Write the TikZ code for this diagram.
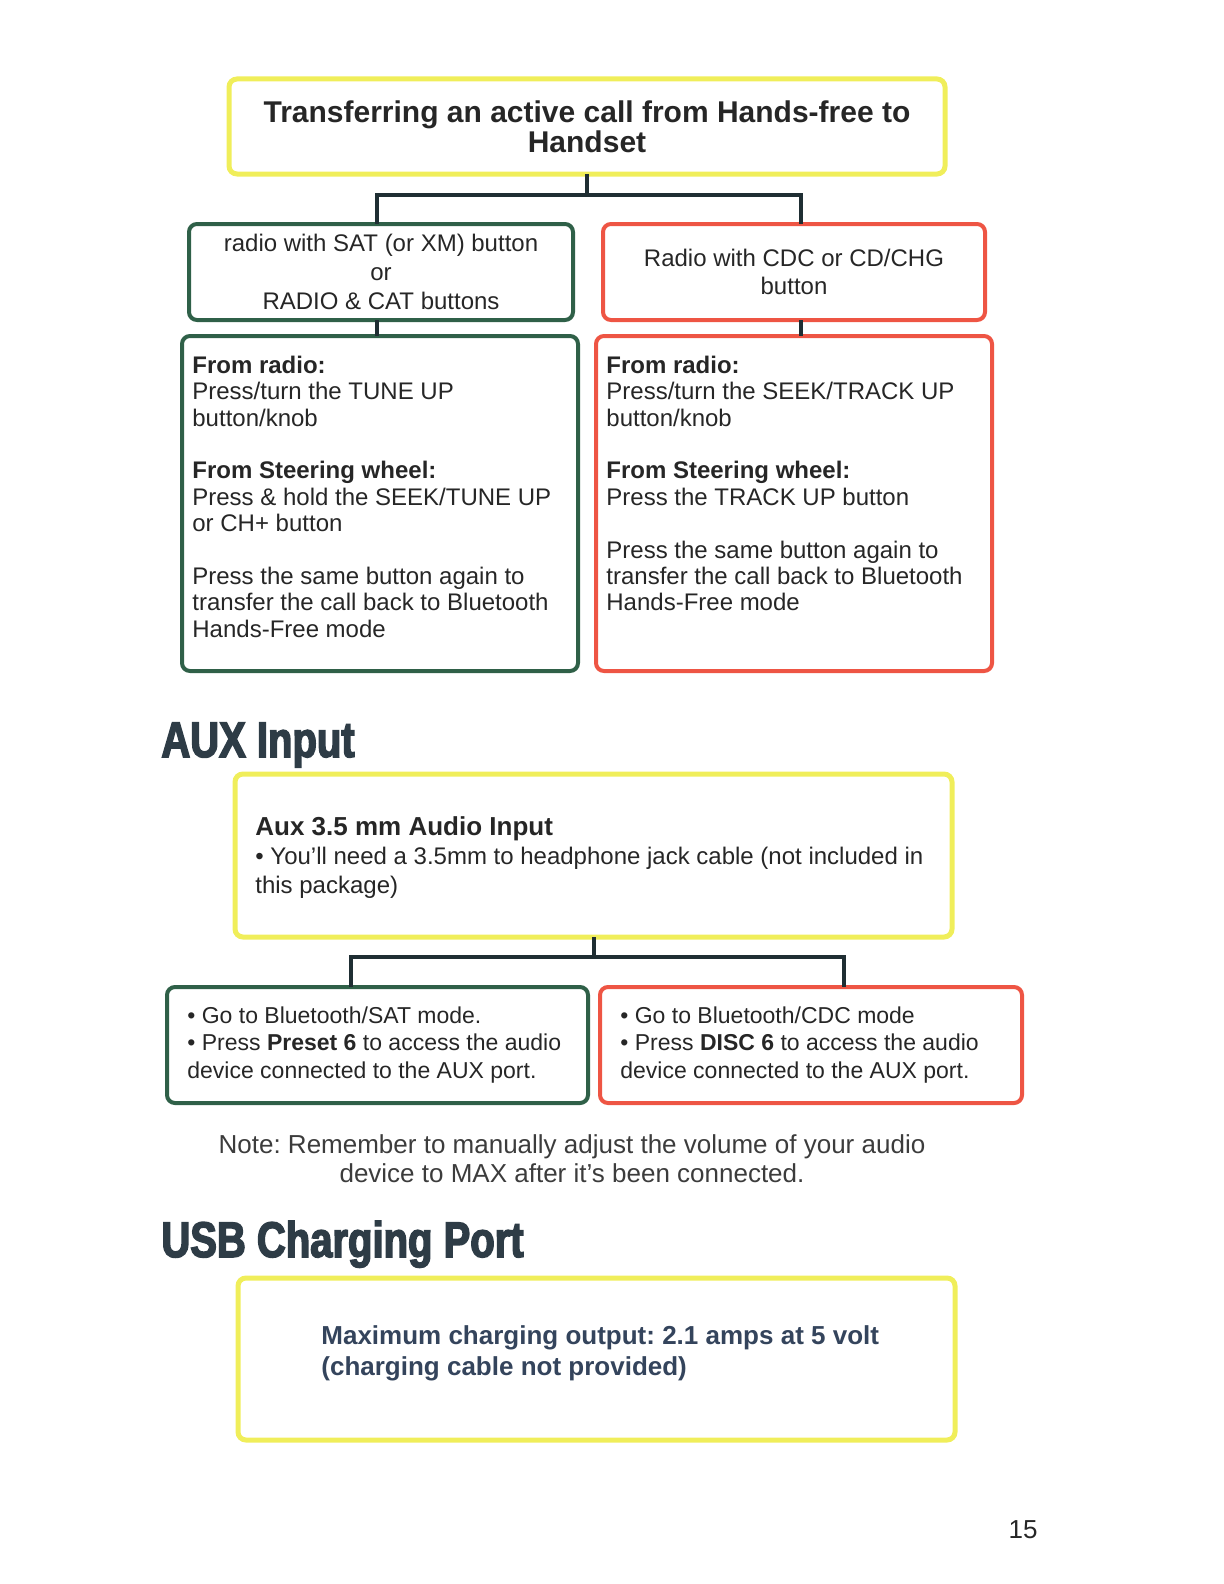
\documentclass[tikz,border=0pt]{standalone}
\usepackage{fontspec}
\setmainfont{Liberation Sans}
\newfontfamily\headfont[FakeStretch=0.8,FakeBold=3]{Liberation Sans Bold}
\usetikzlibrary{positioning}
\definecolor{boxYellow}{HTML}{F0EE5A}
\definecolor{boxGreen}{HTML}{2F6048}
\definecolor{boxRed}{HTML}{EE5544}
\definecolor{linkDark}{HTML}{1F2E33}
\definecolor{headSlate}{HTML}{2E3C46}
\definecolor{usbText}{HTML}{34445C}
\definecolor{textDark}{HTML}{262626}
\frenchspacing
\tikzset{
  box/.style    ={draw, rounded corners=4pt, line width=2pt, inner sep=0pt, outer sep=0pt, align=center, text=textDark},
  yelbox/.style ={box, draw=boxYellow, line width=2.5pt},
  grnbox/.style ={box, draw=boxGreen},
  redbox/.style ={box, draw=boxRed},
  link/.style   ={draw=linkDark, line width=2pt},
  body/.style   ={font=\fontsize{12}{13.2}\selectfont, text=textDark, align=left, inner sep=0pt},
  small/.style  ={body, font=\fontsize{11.5}{13.6}\selectfont},
  head/.style   ={font=\headfont\fontsize{25}{30}\selectfont, text=headSlate, inner sep=0pt},
}
\begin{document}
\begin{tikzpicture}[x=0.5pt,y=-0.5pt]
  \useasboundingbox (0,0) rectangle (1224,1584);
  % call transfer
  \node[yelbox, minimum width=358pt, minimum height=47.5pt, font=\bfseries\fontsize{15}{15}\selectfont]
        (title) at (587,126.5) {Transferring an active call from Hands-free to\\Handset};
  \node[grnbox, minimum width=192pt, minimum height=48pt, font=\fontsize{12}{14.4}\selectfont]
        (sat) at (381,272) {radio with SAT (or XM) button\\or\\RADIO \& CAT buttons};
  \node[redbox, minimum width=191pt, minimum height=48pt, font=\fontsize{12}{14.4}\selectfont]
        (cdc) at (794,272) {Radio with CDC or CD/CHG\\button};
  \node[grnbox, minimum width=198pt, minimum height=167.5pt] (satsteps) at (380,503.5) {};
  \node[redbox, minimum width=198pt, minimum height=167.5pt] (cdcsteps) at (794,503.5) {};
  \node[body, below right=9.75pt and 5pt of satsteps.north west] (satsteptxt)
        {\textbf{From radio:}\\Press/turn the TUNE UP\\button/knob\\[13.2pt]
         \textbf{From Steering wheel:}\\Press \& hold the SEEK/TUNE UP\\or CH+ button\\[13.2pt]
         Press the same button again to\\transfer the call back to Bluetooth\\Hands-Free mode};
  \node[body, below right=9.75pt and 5pt of cdcsteps.north west] (cdcsteptxt)
        {\textbf{From radio:}\\Press/turn the SEEK/TRACK UP\\button/knob\\[13.2pt]
         \textbf{From Steering wheel:}\\Press the TRACK UP button\\[13.2pt]
         Press the same button again to\\transfer the call back to Bluetooth\\Hands-Free mode};
  \coordinate (satjoin) at ([xshift=-2pt]sat.south);
  \coordinate (cdcjoin) at ([xshift=3.5pt]cdc.south);
  \draw[link] (title.south) -- ++(0,21) -| ([xshift=-2pt]sat.north);
  \draw[link] (title.south) -- ++(0,21) -| ([xshift=3.5pt]cdc.north);
  \draw[link] (satjoin) -- (satjoin |- satsteps.north);
  \draw[link] (cdcjoin) -- (cdcjoin |- cdcsteps.north);

  % aux input
  \node[head, anchor=base west] (auxhead) at (161,757) {AUX Input};
  \node[yelbox, minimum width=358.5pt, minimum height=81.5pt] (aux) at (593.5,855.5) {};
  \node[body, right=10pt of aux.west, yshift=-1pt, font=\fontsize{12}{14.3}\selectfont] (auxtxt)
        {{\bfseries\fontsize{13}{14.3}\selectfont Aux 3.5 mm Audio Input}\\
         \textbullet{} You'll need a 3.5mm to headphone jack cable (not included in\\this package)};
  \node[grnbox, minimum width=210.5pt, minimum height=58pt] (auxsat) at (377.5,1045) {};
  \node[redbox, minimum width=211pt, minimum height=58pt] (auxcdc) at (811,1045) {};
  \node[small, right=10pt of auxsat.west] (auxsattxt)
        {\textbullet{} Go to Bluetooth/SAT mode.\\
         \textbullet{} Press \textbf{Preset 6} to access the audio\\device connected to the AUX port.};
  \node[small, right=10pt of auxcdc.west] (auxcdctxt)
        {\textbullet{} Go to Bluetooth/CDC mode\\
         \textbullet{} Press \textbf{DISC 6} to access the audio\\device connected to the AUX port.};
  \draw[link] (aux.south) -- ++(0,20) -| ([xshift=-13.5pt]auxsat.north);
  \draw[link] (aux.south) -- ++(0,20) -| ([xshift=16.5pt]auxcdc.north);
  \node[align=center, text=textDark!90, font=\fontsize{13}{14.5}\selectfont] (note) at (572,1158.5)
        {Note: Remember to manually adjust the volume of your audio\\device to MAX after it's been connected.};

  % usb port
  \node[head, anchor=base west] (usbhead) at (161,1257) {USB Charging Port};
  \node[yelbox, minimum width=358.5pt, minimum height=81pt] (usb) at (596.5,1359) {};
  \node[body, right=41.5pt of usb.west, yshift=3pt, text=usbText, font=\bfseries\fontsize{13}{15.5}\selectfont]
        (usbtxt) {Maximum charging output: 2.1 amps at 5 volt\\(charging cable not provided)};

  \node[font=\fontsize{13}{15}\selectfont, text=textDark] (pagenum) at (1023,1530) {15};
\end{tikzpicture}
\end{document}
